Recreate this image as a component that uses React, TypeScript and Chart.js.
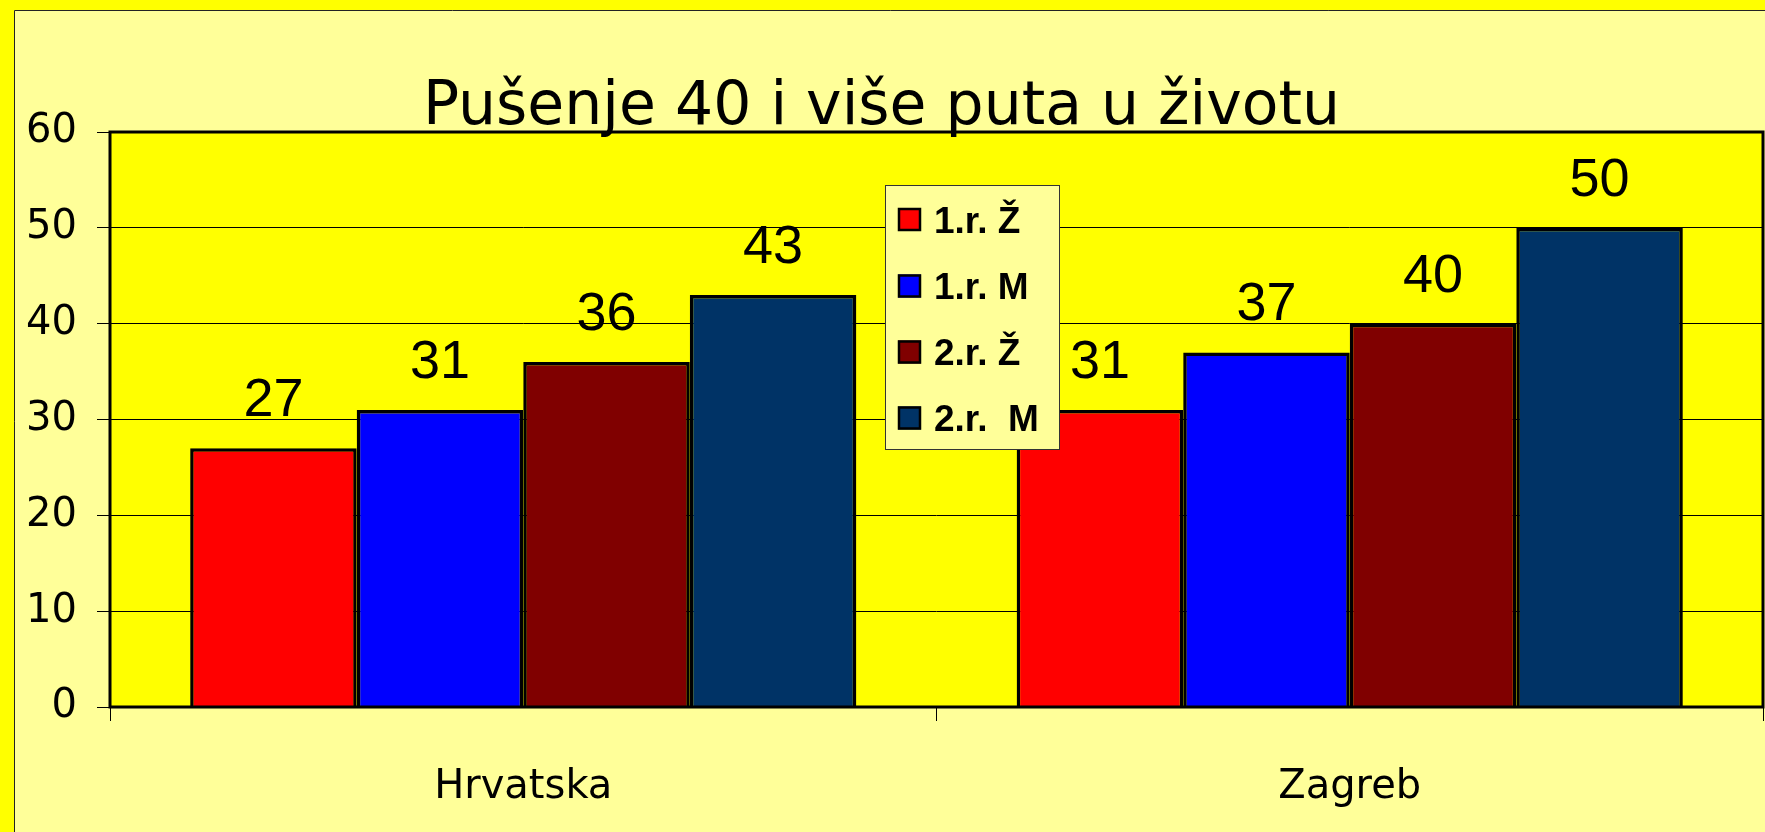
import React, { useEffect, useRef } from "react";
import { Chart, registerables } from "chart.js";

Chart.register(...registerables);

const categories = ["Hrvatska", "Zagreb"];
const seriesLabels = ["1.r. Ž", "1.r. M", "2.r. Ž", "2.r.  M"];
const seriesColors = ["#FF0000", "#0000FF", "#800000", "#003366"];
const r1Z = [27, 31];
const r1M = [31, 37];
const r2Z = [36, 40];
const r2M = [43, 50];
const yTicks = [0, 10, 20, 30, 40, 50, 60];
const titleText = "Pušenje 40 i više puta u životu";

const W = 1765;
const H = 832;
const CH_FONT = "'Comic Sans MS', 'DejaVu Sans', sans-serif";
const ARIAL = "'Liberation Sans', Arial, sans-serif";

const backgroundPlugin = {
  id: "bgPanel",
  beforeDraw(chart: any) {
    const { ctx, chartArea } = chart;
    ctx.save();
    ctx.fillStyle = "#FFFF00";
    ctx.fillRect(0, 0, chart.width, chart.height);
    ctx.fillStyle = "#FFFF99";
    ctx.fillRect(14, 10, chart.width, chart.height);
    ctx.strokeStyle = "#222222";
    ctx.lineWidth = 1;
    ctx.beginPath();
    ctx.moveTo(14.5, chart.height + 2);
    ctx.lineTo(14.5, 10.5);
    ctx.lineTo(chart.width + 2, 10.5);
    ctx.stroke();
    ctx.fillStyle = "#FFFF00";
    ctx.fillRect(chartArea.left, chartArea.top, chartArea.right - chartArea.left, chartArea.bottom - chartArea.top);
    ctx.restore();
  },
};

const borderPlugin = {
  id: "areaBorder",
  afterDatasetsDraw(chart: any) {
    const { ctx, chartArea } = chart;
    ctx.save();
    ctx.strokeStyle = "#000000";
    ctx.lineWidth = 3;
    ctx.strokeRect(chartArea.left, chartArea.top, chartArea.right - chartArea.left, chartArea.bottom - chartArea.top);
    ctx.restore();
  },
};

const valueLabelPlugin = {
  id: "valueLabels",
  afterDatasetsDraw(chart: any) {
    const { ctx } = chart;
    ctx.save();
    ctx.font = `54px ${ARIAL}`;
    ctx.fillStyle = "#000000";
    ctx.textAlign = "center";
    ctx.textBaseline = "alphabetic";
    chart.data.datasets.forEach((ds: any, i: number) => {
      const meta = chart.getDatasetMeta(i);
      meta.data.forEach((el: any, j: number) => {
        ctx.fillText(String(ds.data[j]), el.x, el.y - 32);
      });
    });
    ctx.restore();
  },
};

const boxLegendPlugin = {
  id: "boxLegend",
  afterDraw(chart: any) {
    const { ctx } = chart;
    const x0 = 885;
    const y0 = 185;
    const w = 174;
    const h = 264;
    ctx.save();
    ctx.fillStyle = "#FFFF99";
    ctx.fillRect(x0, y0, w, h);
    ctx.strokeStyle = "#333333";
    ctx.lineWidth = 1;
    ctx.strokeRect(x0 + 0.5, y0 + 0.5, w, h);
    const centers = [219.5, 286, 352, 418];
    chart.data.datasets.forEach((ds: any, i: number) => {
      const cy = centers[i];
      ctx.fillStyle = ds.backgroundColor;
      ctx.fillRect(898, cy - 11.5, 23, 23);
      ctx.strokeStyle = "#000000";
      ctx.lineWidth = 2.5;
      ctx.strokeRect(899, cy - 10.5, 21, 21);
      ctx.fillStyle = "#000000";
      ctx.font = `bold 37px ${ARIAL}`;
      ctx.textAlign = "left";
      ctx.textBaseline = "alphabetic";
      ctx.fillText(ds.label, 934, cy + 13);
    });
    ctx.restore();
  },
};

export default function App() {
  const canvasRef = useRef<HTMLCanvasElement | null>(null);

  useEffect(() => {
    if (!canvasRef.current) return;
    const seriesData = [r1Z, r1M, r2Z, r2M];
    const chart = new Chart(canvasRef.current, {
      type: "bar",
      data: {
        labels: categories,
        datasets: seriesData.map((d, i) => ({
          label: seriesLabels[i],
          data: d,
          backgroundColor: seriesColors[i],
          borderColor: "#000000",
          borderWidth: 3.5,
          categoryPercentage: 0.806,
          barPercentage: 1,
        })),
      },
      options: {
        responsive: false,
        animation: false,
        devicePixelRatio: 1,
        layout: { padding: { top: 0, left: 0, right: 2, bottom: 0 } },
        plugins: {
          legend: { display: false },
          tooltip: { enabled: false },
          title: {
            display: true,
            text: titleText,
            color: "#000000",
            font: { family: CH_FONT, size: 60, weight: "normal", lineHeight: 0.78 },
            padding: { top: 85.2, bottom: 0 },
          },
        },
        scales: {
          x: {
            grid: {
              display: true,
              drawOnChartArea: false,
              drawTicks: true,
              tickLength: 14,
              color: "#000000",
              lineWidth: 1,
              offset: true,
            },
            border: { display: false },
            ticks: {
              color: "#000000",
              font: { family: CH_FONT, size: 40 },
              padding: 43,
              maxRotation: 0,
            },
            afterFit(scale: any) {
              scale.height = 125;
            },
          },
          y: {
            min: 0,
            max: 60,
            afterBuildTicks(scale: any) {
              scale.ticks = yTicks.map((v) => ({ value: v }));
            },
            grid: {
              color: "#000000",
              lineWidth: 1,
              drawTicks: true,
              tickLength: 13,
            },
            border: { display: false },
            ticks: {
              color: "#000000",
              font: { family: CH_FONT, size: 40 },
              padding: 20,
            },
            afterFit(scale: any) {
              scale.width = 110;
            },
          },
        },
      },
      plugins: [backgroundPlugin, borderPlugin, valueLabelPlugin, boxLegendPlugin],
    });
    return () => chart.destroy();
  }, []);

  return (
    <div style={{ position: "fixed", left: 0, top: 0, width: W, height: H, overflow: "hidden" }}>
      <canvas ref={canvasRef} width={W} height={H} style={{ display: "block" }} />
    </div>
  );
}
